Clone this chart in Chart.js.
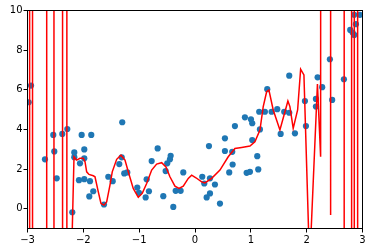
<!DOCTYPE html>
<html><head><meta charset="utf-8">
<script src="https://cdn.jsdelivr.net/npm/chart.js@4/dist/chart.umd.min.js"></script>
<style>html,body{margin:0;padding:0;background:#fff}#wrap{width:372px;height:252px}</style>
</head><body><div id="wrap"><canvas id="c" width="372" height="252"></canvas></div>
<script>
const scatterX = [-2.979,-2.937,-2.687,-2.538,-2.52,-2.477,-2.377,-2.287,-2.198,-2.162,-2.162,-2.078,-2.06,-2.03,-1.983,-1.983,-1.983,-1.893,-1.881,-1.858,-1.822,-1.63,-1.553,-1.474,-1.356,-1.313,-1.303,-1.267,-1.213,-1.034,-1.004,-0.884,-0.866,-0.825,-0.776,-0.669,-0.568,-0.526,-0.497,-0.449,-0.436,-0.389,-0.346,-0.257,-0.21,0.13,0.166,0.209,0.25,0.268,0.268,0.357,0.447,0.536,0.536,0.613,0.667,0.674,0.715,0.894,0.925,0.984,1.002,1.025,1.025,1.115,1.133,1.15,1.163,1.252,1.294,1.372,1.473,1.534,1.598,1.688,1.688,1.79,1.969,1.987,2.166,2.166,2.196,2.278,2.416,2.457,2.667,2.78,2.823,2.851,2.851,2.882,2.953];
const scatterY = [5.37,6.21,2.49,3.72,2.89,1.53,3.77,4.02,-0.18,2.84,2.60,1.44,2.29,3.72,2.99,2.54,1.49,0.62,1.39,3.72,0.88,0.21,1.61,1.39,2.25,2.59,4.36,1.78,1.83,1.07,0.80,0.57,1.48,0.88,2.40,3.04,0.63,1.90,2.29,2.49,2.67,0.09,0.90,0.90,1.83,1.61,1.27,0.57,3.16,1.53,0.77,1.22,0.26,2.91,3.55,1.83,2.87,2.23,4.17,4.61,1.81,1.86,4.51,4.31,3.46,2.65,1.98,4.89,4.00,4.89,6.03,4.89,5.02,3.77,4.89,6.71,4.84,3.80,5.43,4.17,5.54,5.15,6.63,6.13,7.54,5.49,6.53,9.02,8.89,9.78,8.77,9.31,9.78];
const curveX = [-2.962,-2.962,-2.910,-2.910,-2.656,-2.656,-2.526,-2.526,-2.372,-2.372,-2.295,-2.295,
  -2.212,-2.167,-2.119,-2.06,-2.001,-1.97,-1.94,-1.899,-1.822,-1.791,-1.732,-1.684,-1.63,-1.582,-1.523,-1.482,-1.403,-1.326,-1.254,-1.195,
  -1.106,-1.016,-0.945,-0.866,-0.776,-0.687,-0.597,-0.52,-0.449,-0.359,-0.287,-0.21,-0.121,-0.06,0.017,0.119,0.178,0.298,0.447,0.595,
  0.715,0.835,0.984,1.073,1.163,1.222,1.283,1.324,1.401,1.521,1.611,1.664,1.70,1.759,1.838,1.892,1.951,
  2.053,2.193,2.25,2.27,2.42,2.429,2.438,2.672,2.672,2.805,2.805,2.853,2.853,2.913,2.913,2.96];
const curveY = [-300,300,300,-300,-300,300,300,-300,-300,300,300,-300,
  -2.68,2.62,2.45,2.54,2.54,2.37,1.86,1.73,1.66,1.61,0.85,0.26,0.18,0.34,1.19,1.86,2.49,2.70,2.45,1.86,
  1.02,0.57,0.77,1.27,1.95,2.25,2.32,2.11,1.61,1.14,1.02,1.14,1.53,1.69,1.56,1.35,1.30,1.53,1.95,2.62,
  3.04,3.09,3.16,3.38,3.97,5.15,5.90,5.99,4.98,3.97,4.89,5.43,5.15,4.05,4.98,7.04,6.75,
  -2.86,6.29,2.62,300,300,-0.32,300,300,-300,-300,300,300,-300,-300,300,300];
const xTicks = [-3,-2,-1,0,1,2,3];
const xTickLabels = ['\u22123','\u22122','\u22121','0','1','2','3'];
const yTicks = [0,2,4,6,8,10];
const yTickLabels = ['0','2','4','6','8','10'];

const n1 = Math.min(scatterX.length, scatterY.length);
const scatterPts = scatterX.slice(0,n1).map((x,i)=>({x:x, y:scatterY[i]}));
const n2 = Math.min(curveX.length, curveY.length);
const curvePts = curveX.slice(0,n2).map((x,i)=>({x:x, y:curveY[i]}));

const frame = {id:'frame', afterDatasetsDraw(chart){
  const {ctx, chartArea:a} = chart;
  ctx.save(); ctx.strokeStyle='#000'; ctx.lineWidth=1;
  ctx.strokeRect(a.left, a.top, a.right-a.left, a.bottom-a.top);
  ctx.restore();
}};
const font = {family:'DejaVu Sans', size:10};
new Chart(document.getElementById('c'), {
  type:'scatter',
  data:{datasets:[
    {data:curvePts, showLine:true, borderColor:'#ff0000', borderWidth:1.5, pointRadius:0, fill:false, tension:0, order:0, clip:0},
    {data:scatterPts, backgroundColor:'#1f77b4', borderColor:'#1f77b4', borderWidth:0, pointRadius:3.1, order:1, clip:0}
  ]},
  options:{
    responsive:false, animation:false, events:[],
    layout:{padding:{top:10.5,right:9.5,left:0,bottom:0}},
    plugins:{legend:{display:false}, tooltip:{enabled:false}},
    scales:{
      x:{type:'linear', min:-3, max:3,
        afterBuildTicks:s=>{s.ticks = xTicks.map(v=>({value:v}));},
        ticks:{callback:v=>xTickLabels[xTicks.indexOf(v)], color:'#000', font:font, padding:2, maxRotation:0, autoSkip:false},
        grid:{drawOnChartArea:false, drawTicks:true, tickLength:4, color:'#000'},
        border:{display:false},
        afterFit:s=>{s.height=23.5;}},
      y:{type:'linear', min:-1, max:10,
        afterBuildTicks:s=>{s.ticks = yTicks.map(v=>({value:v}));},
        ticks:{callback:v=>yTickLabels[yTicks.indexOf(v)], color:'#000', font:font, padding:1, autoSkip:false},
        grid:{drawOnChartArea:false, drawTicks:true, tickLength:4, color:'#000'},
        border:{display:false},
        afterFit:s=>{s.width=27.5;}}
    }
  },
  plugins:[frame]
});
</script></body></html>
